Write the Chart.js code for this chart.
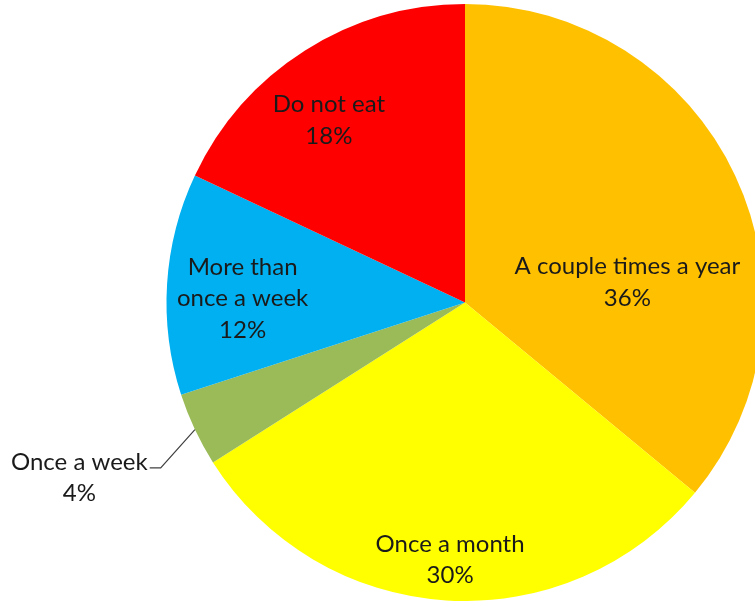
<!DOCTYPE html>
<html>
<head>
<meta charset="utf-8">
<script src="https://cdn.jsdelivr.net/npm/chart.js@4"></script>
<style>
	html, body { margin: 0; padding: 0; background: #fff; overflow: hidden; }
	#wrap { position: absolute; left: 0; top: 0; width: 930px; height: 601px; }
</style>
</head>
<body>
<div id="wrap"><canvas id="PieChart" width="930" height="601"></canvas></div>
<script>
const categories = ["A couple times a year", "Once a month", "Once a week", "More than once a week", "Do not eat"]
const shares = [36, 30, 4, 12, 18]
const colors = ["#FFC000", "#FFFF00", "#9BBB59", "#00B0F0", "#FF0000"]
const labelLines = [
	["A couple times a year", "36%"],
	["Once a month", "30%"],
	["Once a week", "4%"],
	["More than", "once a week", "12%"],
	["Do not eat", "18%"],
]

// where Excel put each label, as a fraction of the radius from the centre
const labelSpots = [[0.544, -0.067], [-0.05, 0.862], [-1.292, 0.587], [-0.745, -0.013], [-0.456, -0.611]]

const pieLabels = {
	id: "pieLabels",
	afterDraw(chart) {
		const ctx = chart.ctx
		const arcs = chart.getDatasetMeta(0).data
		ctx.save()
		ctx.font = "24px Lato, 'Open Sans', sans-serif"
		ctx.fillStyle = "#1a1a1a"
		ctx.textAlign = "center"
		ctx.textBaseline = "middle"
		const lh = 31.5
		arcs.forEach((arc, i) => {
			const r = arc.outerRadius
			const x = arc.x + labelSpots[i][0] * r
			const y = arc.y + labelSpots[i][1] * r
			const lines = labelLines[i]
			const top = y - ((lines.length - 1) * lh) / 2
			lines.forEach((t, j) => ctx.fillText(t, x, top + j * lh))
			if (labelSpots[i][0] * labelSpots[i][0] + labelSpots[i][1] * labelSpots[i][1] > 1) {
				// leader line from the slice edge to the label
				const mid = (arc.startAngle + arc.endAngle) / 2
				const ex = arc.x + Math.cos(mid) * r
				const ey = arc.y + Math.sin(mid) * r
				const w = ctx.measureText(lines[0]).width
				const ly = top + 6
				const lx = x + w / 2 + 2
				ctx.strokeStyle = "#404040"
				ctx.lineWidth = 1.2
				ctx.beginPath()
				ctx.moveTo(ex, ey)
				ctx.lineTo(lx + 11, ly)
				ctx.lineTo(lx, ly)
				ctx.stroke()
			}
		})
		ctx.restore()
	},
}

const PieChart = new Chart(document.getElementById("PieChart").getContext("2d"), {
	type: "pie",
	data: {
		labels: categories,
		datasets: [
			{
				data: shares,
				backgroundColor: colors,
				borderWidth: 0,
			},
		],
	},
	options: {
		responsive: false,
		animation: false,
		layout: { padding: { top: 4, bottom: 0, left: 0, right: 0 } },
		plugins: {
			legend: { display: false },
			tooltip: { enabled: false },
		},
	},
	plugins: [pieLabels],
})
</script>
</body>
</html>
